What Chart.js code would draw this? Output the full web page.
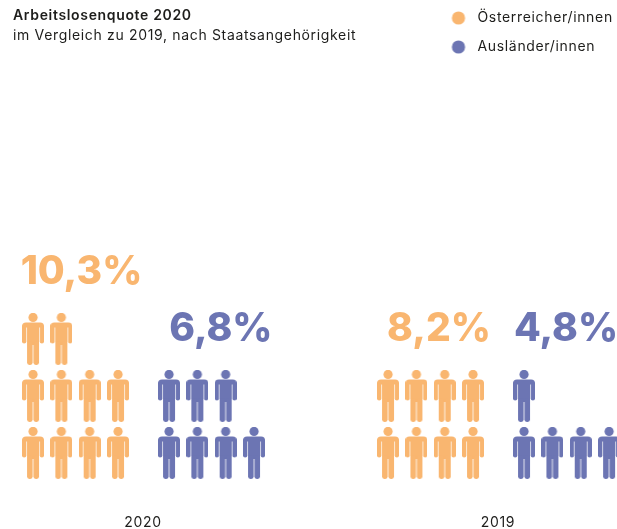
<!DOCTYPE html>
<html><head><meta charset="utf-8">
<style>html,body{margin:0;padding:0;background:#fff}#w{position:relative;width:617px;height:529px}</style>
<script src="https://cdn.jsdelivr.net/npm/chart.js@4"></script>
</head><body><div id="w"><canvas id="c" width="617" height="529"></canvas></div>
<script>
const years = ['2020', '2019'];
const austrians = [10.3, 8.2];
const foreigners = [6.8, 4.8];
const seriesNames = ['Österreicher/innen', 'Ausländer/innen'];
const titleText = 'Arbeitslosenquote 2020';
const subtitleText = 'im Vergleich zu 2019, nach Staatsangehörigkeit';

const ORANGE = '#F9B670', BLUE = '#6C75B3', FONT = 'Inter, sans-serif';
const PER_ROW = 4;
const groupStart = {a: [0, 12.53], f: [4.8, 17.33]};
const labelCentre = {a: [1.71, 14.33], f: [6.63, 18.81]};

function person(color) {
  const c = document.createElement('canvas'); c.width = 22; c.height = 52;
  const g = c.getContext('2d'); g.fillStyle = color;
  g.beginPath(); g.arc(11, 4.4, 4.6, 0, 7); g.fill();
  g.beginPath(); g.roundRect(0, 9.6, 22, 5, [4, 4, 0, 0]); g.fill();
  g.beginPath(); g.roundRect(0, 12, 4.3, 18.5, 2.1); g.fill();
  g.beginPath(); g.roundRect(17.7, 12, 4.3, 18.5, 2.1); g.fill();
  g.fillRect(5, 12, 12, 20);
  g.beginPath(); g.roundRect(5, 28, 5.6, 24, 2.4); g.fill();
  g.beginPath(); g.roundRect(11.4, 28, 5.6, 24, 2.4); g.fill();
  return c;
}
function dot(color) {
  const c = document.createElement('canvas'); c.width = 24; c.height = 14;
  const g = c.getContext('2d'); g.fillStyle = color;
  g.beginPath(); g.arc(12, 7, 6.6, 0, 7); g.fill();
  return c;
}
function points(values, starts) {
  const out = [];
  values.forEach((v, i) => {
    const n = Math.round(v);
    for (let k = 0; k < n; k++) out.push({x: starts[i] + k % PER_ROW, y: Math.floor(k / PER_ROW)});
  });
  return out;
}
const fmt = v => v.toFixed(1).replace('.', ',') + '%';
const spacing = {
  id: 'spacing',
  beforeUpdate(chart) { chart.ctx.letterSpacing = '0.66px'; },
  beforeDraw(chart) { chart.ctx.letterSpacing = '0.66px'; }
};
const bigLabels = {
  id: 'bigLabels',
  afterDatasetsDraw(chart) {
    const {ctx, scales: {x, y}} = chart;
    ctx.save();
    ctx.letterSpacing = '0px';
    ctx.font = '800 39px ' + FONT; ctx.textAlign = 'center'; ctx.textBaseline = 'middle';
    [[austrians, labelCentre.a, ORANGE], [foreigners, labelCentre.f, BLUE]].forEach(([vals, cx, col]) => {
      vals.forEach((v, i) => {
        const rows = Math.ceil(Math.round(v) / PER_ROW);
        ctx.fillStyle = col;
        ctx.fillText(fmt(v), x.getPixelForValue(cx[i]), y.getPixelForValue(rows + 0.175));
      });
    });
    ctx.restore();
  }
};
const placeLegend = {
  id: 'placeLegend',
  afterLayout(chart) { chart.legend.left = 431.5; chart.legend.top = -4; }
};
const dots = [dot(ORANGE), dot(BLUE)];
const yearCentres = [3.88, 16.41];

new Chart(document.getElementById('c'), {
  type: 'scatter',
  plugins: [spacing, bigLabels, placeLegend],
  data: {datasets: [
    {label: seriesNames[0], data: points(austrians, groupStart.a), backgroundColor: ORANGE, borderColor: ORANGE, pointStyle: person(ORANGE), pointRadius: 11, clip: false},
    {label: seriesNames[1], data: points(foreigners, groupStart.f), backgroundColor: BLUE, borderColor: BLUE, pointStyle: person(BLUE), pointRadius: 11, clip: false}
  ]},
  options: {
    responsive: false, animation: false, devicePixelRatio: 1,
    layout: {autoPadding: false, padding: {left: 13, top: 0, right: 0, bottom: -2}},
    scales: {
      x: {type: 'linear', min: -0.706, max: 20.61, border: {display: false}, grid: {display: false, drawTicks: false},
        afterBuildTicks(a) { a.ticks = yearCentres.map(value => ({value})); },
        ticks: {padding: 0, color: '#1d1d1b', font: {family: FONT, size: 14}, maxRotation: 0, autoSkip: false,
          callback(v) { return years[yearCentres.indexOf(v)]; }}},
      y: {display: false, min: -1.074, max: 7.06}
    },
    plugins: {
      tooltip: {enabled: false},
      title: {display: true, text: titleText, align: 'start', color: '#1d1d1b', font: {family: FONT, size: 14, weight: '600'}, padding: {top: 7, bottom: 4}},
      subtitle: {display: true, text: subtitleText, align: 'start', color: '#1d1d1b', font: {family: FONT, size: 14, weight: '400'}, padding: {bottom: 6}},
      legend: {position: 'chartArea', align: 'start', labels: {
        usePointStyle: true, pointStyleWidth: 24, boxHeight: 14, padding: 15, color: '#1d1d1b',
        font: {family: FONT, size: 14},
        generateLabels(chart) {
          return Chart.defaults.plugins.legend.labels.generateLabels(chart).map((it, i) => ({...it, pointStyle: dots[i]}));
        }}}
    }
  }
});
</script></body></html>
